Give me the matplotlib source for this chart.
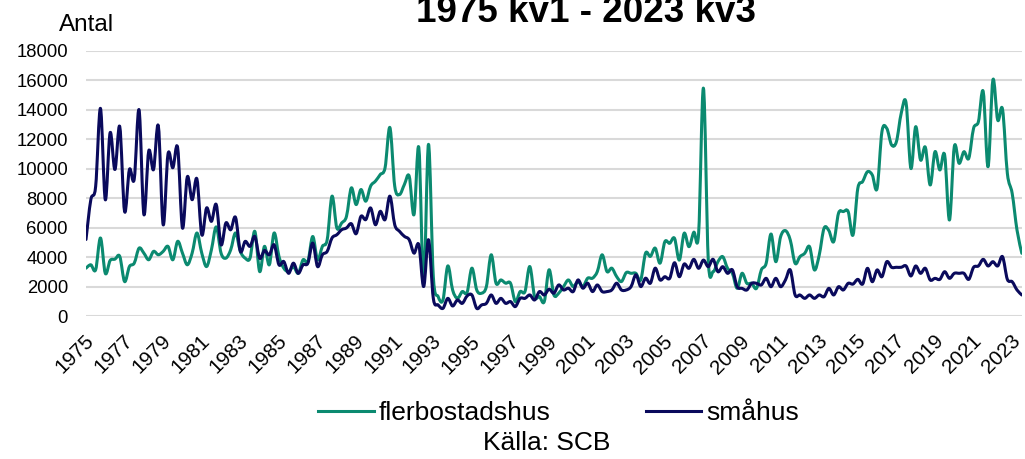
import numpy as np
import matplotlib
matplotlib.use("Agg")
import matplotlib.pyplot as plt
import matplotlib.transforms as mtransforms
from matplotlib.path import Path
from matplotlib.patches import PathPatch
from matplotlib.lines import Line2D

plt.rcParams["font.family"] = ["Liberation Sans", "DejaVu Sans"]

# kvartal 1975 kv1 .. 2023 kv3
start_year = 1975
n_quarters = 195

flerbostadshus = [
    3250, 3480, 3140, 5300, 2900, 3770, 3860, 4050, 2340, 3360,
    3590, 4610, 4270, 3820, 4390, 4160, 4390, 4730, 3820, 5070,
    4270, 3480, 4270, 5640, 4270, 3360, 4500, 6050, 4270, 3930,
    4500, 5640, 4390, 3930, 3930, 5750, 3020, 4730, 3480, 5640,
    4050, 3250, 3020, 3360, 2900, 3820, 3700, 5400, 3820, 4730,
    5180, 8140, 5980, 6320, 6770, 8700, 7570, 8590, 7800, 8820,
    9160, 9610, 10070, 12800, 8820, 8250, 8930, 9500, 6890, 11430,
    2200, 11660, 2680, 1320, 1090, 3400, 1770, 1200, 1660, 1600,
    3250, 1770, 1550, 2000, 4160, 2230, 2450, 2230, 2230, 980,
    1660, 1660, 3360, 1320, 1320, 980, 3140, 1430, 1550, 2000,
    2450, 2000, 2340, 2000, 2570, 2570, 3020, 4160, 3020, 3250,
    2680, 2340, 2950, 2900, 2900, 2450, 4270, 4050, 4610, 3590,
    5050, 4940, 5280, 3800, 5620, 4710, 5690, 5620, 15470, 3800,
    3010, 3690, 4030, 3240, 2900, 1880, 2900, 2220, 2220, 1880,
    3130, 3580, 5570, 3690, 5390, 5800, 5160, 3580, 4030, 4260,
    4710, 3130, 4140, 5960, 5800, 5050, 6980, 7090, 7090, 5500,
    8670, 9130, 9800, 9580, 8670, 12520, 12750, 11620, 11840, 13770,
    14490, 10030, 12860, 10600, 11460, 8900, 11160, 9920, 10940, 6520,
    11500, 10370, 11160, 10710, 12750, 13200, 15240, 10140, 16030, 13310,
    14040, 9690, 8330, 5840, 4260,
]

smahus = [
    5200, 7900, 8800, 14100, 7900, 12450, 9950, 12860, 7100, 9950,
    9300, 14000, 6900, 11200, 9950, 12900, 6200, 11000, 10070, 11430,
    5980, 9450, 7900, 9300, 5520, 7340, 6430, 7570, 4840, 6320,
    5860, 6700, 4390, 5070, 4730, 5400, 3930, 4450, 4160, 4840,
    3480, 3700, 2900, 3590, 2900, 3480, 3590, 4950, 3360, 4160,
    4390, 5300, 5520, 5860, 5980, 6270, 5590, 6770, 6550, 7340,
    6200, 7110, 6550, 8140, 6200, 5750, 5410, 5180, 4270, 4840,
    2000, 5180, 1200, 750, 520, 1200, 680, 1090, 860, 1360,
    1430, 520, 750, 860, 1430, 860, 1200, 860, 980, 640,
    1200, 1200, 1430, 1090, 1660, 1430, 1820, 1550, 2110, 1770,
    1890, 1660, 2450, 1890, 2230, 1660, 2110, 1660, 1660, 1770,
    2230, 1770, 1770, 2000, 2800, 2000, 2570, 2230, 3250, 2450,
    2670, 2560, 3620, 2670, 3530, 3240, 3850, 3240, 3800, 3350,
    3850, 3010, 3350, 2900, 3130, 1990, 1880, 1770, 2220, 2220,
    2110, 2560, 1990, 2560, 1990, 2450, 3130, 1430, 1430, 1200,
    1430, 1200, 1430, 1310, 1880, 1430, 1990, 1770, 2220, 2170,
    2490, 2170, 3240, 2330, 3130, 2670, 3690, 3310, 3310, 3310,
    3400, 2720, 3400, 2900, 3240, 2450, 2560, 2490, 3010, 2560,
    2900, 2900, 2900, 2490, 3310, 3400, 3850, 3400, 3690, 3400,
    4030, 2490, 2330, 1770, 1430,
]

tick_years = list(range(1975, 2024, 2))

green = "#0B8A70"
navy = "#0A0A5C"
lw = 2.2


def smooth_path(xs, ys):
    # excel-like smoothed line: bezier segments through every point
    xs = np.asarray(xs, float)
    ys = np.asarray(ys, float)
    n = len(xs)
    verts = [(xs[0], ys[0])]
    codes = [Path.MOVETO]
    for i in range(n - 1):
        i0 = max(i - 1, 0)
        i3 = min(i + 2, n - 1)
        c1 = (xs[i] + (xs[i + 1] - xs[i0]) / 6, ys[i] + (ys[i + 1] - ys[i0]) / 6)
        c2 = (xs[i + 1] - (xs[i3] - xs[i]) / 6, ys[i + 1] - (ys[i3] - ys[i]) / 6)
        verts += [c1, c2, (xs[i + 1], ys[i + 1])]
        codes += [Path.CURVE4] * 3
    return Path(verts, codes)


fig = plt.figure(figsize=(10.25, 4.59), dpi=100)
ax = fig.add_axes([0.0839, 0.3115, 0.913, 0.5774])

x = np.arange(n_quarters)
for ys, col, z in [(flerbostadshus, green, 3), (smahus, navy, 4)]:
    ax.add_patch(PathPatch(smooth_path(x, ys), fill=False, edgecolor=col,
                           lw=lw, joinstyle="round", capstyle="round", zorder=z))

ax.set_xlim(0, n_quarters - 1)
ax.set_ylim(0, 18000)
ax.set_yticks(range(0, 18001, 2000))
ax.yaxis.grid(True, color="#D9D9D9", lw=1.5)
ax.set_axisbelow(True)
for s in ax.spines.values():
    s.set_visible(False)
ax.tick_params(axis="y", length=0, pad=13, labelsize=13.3)

ax.set_xticks([(y - start_year) * 4 for y in tick_years])
ax.set_xticklabels([str(y) for y in tick_years], rotation=45, ha="right",
                   va="center", rotation_mode="anchor", fontsize=14.8)
ax.tick_params(axis="x", length=0, pad=16)
shift = mtransforms.ScaledTranslation(5 / 100, 0, fig.dpi_scale_trans)
for lab in ax.get_xticklabels():
    lab.set_transform(lab.get_transform() + shift)

fig.text(0.572, 0.953, "1975 kv1 - 2023 kv3", ha="center", va="baseline",
         fontsize=26.5, fontweight="bold")
fig.text(0.084, 0.945, "Antal", ha="center", va="center", fontsize=17.5)

handles = [Line2D([], [], color=green, lw=lw), Line2D([], [], color=navy, lw=lw)]
fig.legend(handles, ["flerbostadshus", "småhus"], loc="center",
           bbox_to_anchor=(0.545, 0.1), ncol=2, frameon=False,
           fontsize=19, handlelength=2.1, handletextpad=0.2, columnspacing=3.6)
fig.text(0.533, 0.035, "Källa: SCB", ha="center", va="center", fontsize=19)

fig.savefig("out.png", dpi=100)
